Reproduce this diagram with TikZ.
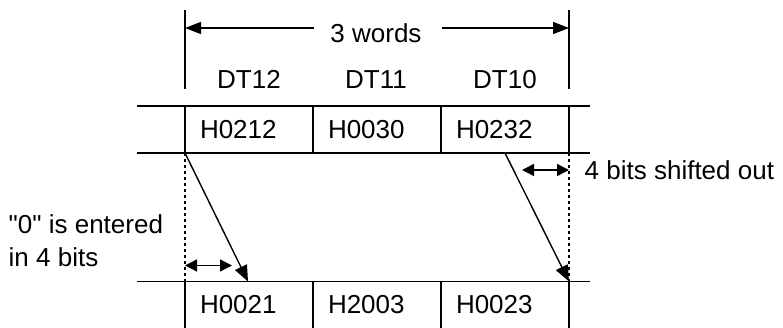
\documentclass[tikz,border=0pt]{standalone}
\usepackage{fontspec}
\setmainfont{Liberation Sans}[Ligatures=TeXOff]
\usetikzlibrary{arrows.meta, positioning}

\begin{document}
\begin{tikzpicture}[
  x=1pt, y=-1pt,
  font=\fontsize{26}{33}\selectfont,
  line width=1.4pt,
  cell/.style={rectangle, draw, minimum width=128pt, minimum height=47pt,
               text width=98pt, inner xsep=15pt, inner ysep=0pt,
               align=left, outer sep=0pt},
  opencell/.style={cell, draw=none},
  txt/.style={inner sep=0pt},
  guide/.style={dash pattern=on 3pt off 3pt, line width=1.2pt},
  shifttip/.style={-{Triangle[length=16pt,width=13pt]}},
  spantip/.style={{Triangle[length=12pt,width=12pt]}-{Triangle[length=12pt,width=12pt]}},
  dimtip/.style={-{Triangle[length=16pt,width=12pt]}}
]
\useasboundingbox (0,0) rectangle (783,328);

% Source words before the shift
\node[cell] (s12) at (249,129.5) {H0212};
\node[cell, right=0pt of s12] (s11) {H0030};
\node[cell, right=0pt of s11] (s10) {H0232};
\draw ([xshift=-48pt]s12.north west) -- ([xshift=21pt]s10.north east);
\draw ([xshift=-48pt]s12.south west) -- ([xshift=21pt]s10.south east);

% Register names
\node[txt, anchor=base] (n12) at (249,89) {DT12};
\node[txt, anchor=base] (n11) at (376,89) {DT11};
\node[txt, anchor=base] (n10) at (505,89) {DT10};

% Word span dimension
\draw (s12.north west) ++(0,-17) -- ++(0,-79);
\draw (s10.north east) ++(0,-17) -- ++(0,-79);
\coordinate (dimL) at (185,28);
\coordinate (dimR) at (569,28);
\node[txt, anchor=base] (words) at (376,43) {3 words};
\draw[dimtip] (words.west |- dimL) ++(-16,0) -- (dimL);
\draw[dimtip] (words.east |- dimR) ++(20,0) -- (dimR);

% Result words after the shift
\node[opencell] (d12) at (249,305) {H0021};
\node[opencell, right=0pt of d12] (d11) {H2003};
\node[opencell, right=0pt of d11] (d10) {H0023};
\draw ([xshift=-48pt]d12.north west) -- ([xshift=21pt]d10.north east);
\foreach \c in {d12, d11, d10}
  \draw (\c.north west) -- (\c.south west);
\draw (d10.north east) -- (d10.south east);

% Shift guides and arrows
\draw[guide] (s12.south west) -- (d12.north west);
\draw[guide] (s10.south east) -- (d10.north east);
\draw[shifttip] (s12.south west) -- ([xshift=63pt]d12.north west);
\draw[shifttip] ([xshift=64pt]s10.south west) -- (d10.north east);

% Four-bit spans
\coordinate (inL) at ([yshift=16pt]d12.north west);
\coordinate (inR) at ([xshift=47pt]inL);
\draw[spantip] (inL) -- (inR);
\coordinate (outR) at ([yshift=-17pt]s10.south east);
\coordinate (outL) at ([xshift=-47pt]outR);
\draw[spantip] (outL) -- (outR);

% Notes
\node[txt, anchor=west] (outnote) at (584,170) {4 bits shifted out};
\node[txt, anchor=west, align=left] (innote) at (8,241)
  {"0" is entered\\in 4 bits};

\end{tikzpicture}
\end{document}
